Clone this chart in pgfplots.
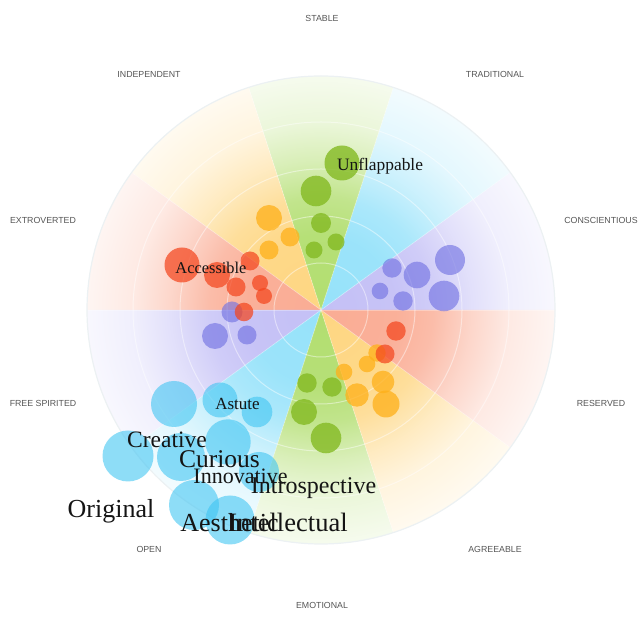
\documentclass[border=0pt]{standalone}
\usepackage{pgfplots}
\pgfplotsset{compat=1.18}
\usepackage{fontspec}
\setmainfont{Liberation Serif}
\newfontfamily\labfont{Liberation Sans}

\definecolor{cgreen}{RGB}{178,222,112}
\definecolor{ccyan}{RGB}{150,226,250}
\definecolor{cpurple}{RGB}{196,192,246}
\definecolor{cred}{RGB}{250,172,148}
\definecolor{cyellow}{RGB}{254,214,130}
\definecolor{bgreen}{RGB}{132,186,35}
\definecolor{byellow}{RGB}{255,176,25}
\definecolor{bred}{RGB}{244,70,30}
\definecolor{bpurple}{RGB}{112,112,226}
\definecolor{bcyan}{RGB}{60,196,242}
\definecolor{labgray}{RGB}{85,85,85}
\definecolor{gridc}{RGB}{236,241,243}

\newcommand{\mkshade}[2]{%
\colorlet{#1a}{#2}\colorlet{#1b}{#2!95!white}\colorlet{#1c}{#2!80!white}%
\colorlet{#1d}{#2!50!white}\colorlet{#1e}{#2!26!white}\colorlet{#1f}{#2!12!white}%
\pgfdeclareradialshading{#1}{\pgfpoint{0bp}{0bp}}{%
color(0bp)=(#1a); color(8bp)=(#1b); color(12bp)=(#1c);
color(16bp)=(#1d); color(20bp)=(#1e); color(25bp)=(#1f);
color(50bp)=(#1f)}}
\mkshade{shgreen}{cgreen}
\mkshade{shcyan}{ccyan}
\mkshade{shpurple}{cpurple}
\mkshade{shred}{cred}
\mkshade{shyellow}{cyellow}

\newcommand{\sector}[2]{%
\begin{scope}
\clip (axis cs:321,-310) -- ++(#1:234bp) arc[start angle=#1, delta angle=36, radius=234bp] -- cycle;
\shade[shading=#2] (axis cs:321,-310) circle[radius=234bp];
\end{scope}}

% bubbles: circle nodes placed at the data points, sized by column r
\pgfplotsset{bubble/.style 2 args={only marks, mark=none,
  visualization depends on={\thisrow{r} \as \rad},
  nodes near coords={},
  every node near coord/.style={anchor=center, circle, inner sep=0pt,
     draw=none, fill=#1, fill opacity=#2,
     minimum size=2.0075*\rad pt}}}

\begin{document}
\begin{tikzpicture}
\begin{axis}[hide axis, scale only axis, width=641bp, height=623bp,
  xmin=0, xmax=641, ymin=-623, ymax=0, clip=false]
\sector{0}{shpurple}
\sector{36}{shcyan}
\sector{72}{shgreen}
\sector{108}{shyellow}
\sector{144}{shred}
\sector{180}{shpurple}
\sector{216}{shcyan}
\sector{252}{shgreen}
\sector{288}{shyellow}
\sector{324}{shred}
\pgfplotsinvokeforeach{0,36,...,324}{
  \draw[white, opacity=0.3, line width=0.8bp] (axis cs:321,-310) -- ++(#1:234bp);
}
\pgfplotsinvokeforeach{47,94,141,188}{
  \draw[white, opacity=0.45, line width=1bp] (axis cs:321,-310) circle[radius=#1bp];
}
\draw[gridc, line width=1.2bp] (axis cs:321,-310) circle[radius=234bp];

% STABLE + EMOTIONAL (green)
\addplot[bubble={bgreen}{0.8}] table {
x y r
342 -163 17.5
316 -191 15.3
321 -223 10
336 -242 8.5
314 -250 8.5
307 -383 9.7
332 -387 9.7
304 -412 13
326 -438 15.3
};
% INDEPENDENT + AGREEABLE (yellow)
\addplot[bubble={byellow}{0.75}] table {
x y r
269 -218 13
290 -237 9.5
269 -250 9.5
377 -353 8.7
367 -364 8.3
344 -372 8.3
383 -382 11.3
357 -395 11.7
386 -404 13.5
};
% CONSCIENTIOUS + FREE SPIRITED (purple)
\addplot[bubble={bpurple}{0.62}] table {
x y r
392 -268 9.7
417 -275 13.3
450 -260 15
380 -291 8.3
403 -301 9.7
444 -296 15.3
232 -312 10.5
215 -336 13
247 -335 9.5
};
% OPEN (cyan)
\addplot[bubble={bcyan}{0.58}] table {
x y r
174 -404 23
220 -400 17.5
257 -412 15.3
128 -456 25.5
181 -457 24
228 -442 22.7
259 -472 20
194 -505 25
230 -520 24.5
};
% EXTROVERTED + RESERVED (red)
\addplot[bubble={bred}{0.72}] table {
x y r
182 -265 17.5
217 -275 13
250 -261 9.5
236 -287 9.5
260 -283 8
264 -296 8
244 -312 9.3
396 -331 9.7
385 -354 9.5
};

% category labels
\begin{scope}[every node/.style={inner sep=0pt, text=labgray, font=\labfont\fontsize{8.8bp}{10bp}\selectfont}]
\node at (axis cs:322,-18) {STABLE};
\node at (axis cs:495,-74) {TRADITIONAL};
\node at (axis cs:601,-220) {CONSCIENTIOUS};
\node at (axis cs:601,-403) {RESERVED};
\node at (axis cs:495,-549) {AGREEABLE};
\node at (axis cs:322,-605) {EMOTIONAL};
\node at (axis cs:149,-549) {OPEN};
\node at (axis cs:43,-403) {FREE SPIRITED};
\node at (axis cs:43,-220) {EXTROVERTED};
\node at (axis cs:149,-74) {INDEPENDENT};
\end{scope}
\end{axis}

% word labels (on top of the bubbles); 1 axis unit = 1bp
\begin{scope}[every node/.style={inner sep=0pt, text=black!92}]
\node[font=\fontsize{17.4bp}{20bp}\selectfont] at (380bp,457bp) {Unflappable};
\node[font=\fontsize{16.4bp}{19bp}\selectfont] at (211bp,355.5bp) {Accessible};
\node[font=\fontsize{17bp}{19bp}\selectfont] at (237.5bp,219.5bp) {Astute};
\node[font=\fontsize{23.5bp}{26bp}\selectfont] at (167bp,183.5bp) {Creative};
\node[font=\fontsize{25.5bp}{28bp}\selectfont] at (219.5bp,164bp) {Curious};
\node[font=\fontsize{22bp}{25bp}\selectfont] at (240.5bp,147bp) {Innovative};
\node[font=\fontsize{24bp}{27bp}\selectfont] at (313.5bp,134.5bp) {Introspective};
\node[font=\fontsize{26bp}{29bp}\selectfont] at (229.5bp,100.5bp) {Aesthetic};
\node[font=\fontsize{26.5bp}{29bp}\selectfont] at (288bp,100.5bp) {Intellectual};
\node[font=\fontsize{26bp}{29bp}\selectfont] at (111bp,112bp) {Original};
\end{scope}
\pgfresetboundingbox
\path (0,0) rectangle (641bp,623bp);
\end{tikzpicture}
\end{document}
